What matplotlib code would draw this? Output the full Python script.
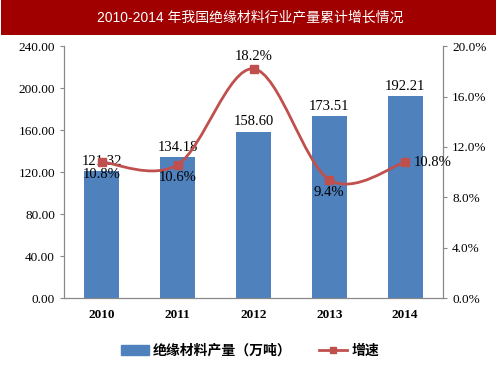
import matplotlib.pyplot as plt
from matplotlib.path import Path
from matplotlib.patches import PathPatch, Rectangle
from matplotlib.lines import Line2D
from matplotlib.ticker import FuncFormatter

years = ['2010', '2011', '2012', '2013', '2014']
output = [121.32, 134.18, 158.60, 173.51, 192.21]
growth = [10.8, 10.6, 18.2, 9.4, 10.8]

title = '2010-2014 年我国绝缘材料行业产量累计增长情况'
bar_label = '绝缘材料产量（万吨）'
line_label = '增速'

blue = '#4F81BD'
red = '#C0504D'
serif = ['Liberation Serif', 'Noto Sans CJK SC']
cjk = ['Liberation Sans', 'Noto Sans CJK SC']


def smooth_path(xs, ys):
    # Excel-like smoothed line: Catmull-Rom converted to cubic Bezier
    verts = [(xs[0], ys[0])]
    codes = [Path.MOVETO]
    n = len(xs)
    for i in range(n - 1):
        p0 = (xs[max(i - 1, 0)], ys[max(i - 1, 0)])
        p1 = (xs[i], ys[i])
        p2 = (xs[i + 1], ys[i + 1])
        p3 = (xs[min(i + 2, n - 1)], ys[min(i + 2, n - 1)])
        c1 = (p1[0] + (p2[0] - p0[0]) / 6, p1[1] + (p2[1] - p0[1]) / 6)
        c2 = (p2[0] - (p3[0] - p1[0]) / 6, p2[1] - (p3[1] - p1[1]) / 6)
        verts += [c1, c2, p2]
        codes += [Path.CURVE4] * 3
    return Path(verts, codes)


fig = plt.figure(figsize=(5, 3.75), dpi=100)
fig.patches.append(Rectangle((0.002, 0.907), 0.99, 0.093, transform=fig.transFigure,
                             facecolor='#A00000', edgecolor='none', zorder=0))
fig.text(0.5, 0.953, title, color='white', ha='center', va='center',
         fontsize=10, family=cjk)

ax = fig.add_axes([0.128, 0.205, 0.758, 0.672])
x = list(range(len(years)))
ax.bar(x, output, width=0.46, color=blue, zorder=2)
ax.set_xlim(-0.5, 4.5)
ax.set_ylim(0, 240)
ax.set_yticks([0, 40, 80, 120, 160, 200, 240])
ax.yaxis.set_major_formatter(FuncFormatter(lambda v, p: f'{v:.2f}'))
ax.set_xticks(x)
ax.set_xticklabels(years, fontweight='bold')
for xi, v in zip(x, output):
    ax.text(xi, v + 3, f'{v:.2f}', ha='center', va='bottom', fontsize=10.5,
            family=serif)

ax2 = ax.twinx()
ax2.set_ylim(0, 20)
ax2.set_yticks([0, 4, 8, 12, 16, 20])
ax2.yaxis.set_major_formatter(FuncFormatter(lambda v, p: f'{v:.1f}%'))
ax2.add_patch(PathPatch(smooth_path(x, growth), facecolor='none', edgecolor=red,
                        lw=2, zorder=3))
ax2.plot(x, growth, ls='none', marker='s', ms=6, color=red, zorder=4)

offsets = [(0, -0.5, 'center', 'top'), (0, -0.5, 'center', 'top'),
           (0, 0.5, 'center', 'bottom'), (0, -0.5, 'center', 'top'),
           (0.12, 0, 'left', 'center')]
for xi, g, (dx, dy, ha, va) in zip(x, growth, offsets):
    ax2.text(xi + dx, g + dy, f'{g:.1f}%', ha=ha, va=va, fontsize=10.5,
             family=serif)

for a in (ax, ax2):
    a.spines['top'].set_visible(False)
    for s in ('left', 'right', 'bottom'):
        a.spines[s].set_color('#888888')
    a.tick_params(colors='#888888', labelcolor='black', labelsize=9.5, length=3)
    for lab in a.get_xticklabels() + a.get_yticklabels():
        lab.set_family(serif)
ax.tick_params(axis='x', length=0, pad=8)

handles = [Rectangle((0, 0), 1, 1, color=blue),
           Line2D([0], [0], color=red, lw=2, marker='s', ms=5)]
fig.legend(handles, [bar_label, line_label], loc='center', ncol=2,
           bbox_to_anchor=(0.5, 0.065), frameon=False, handlelength=2.0,
           handletextpad=0.3, columnspacing=2.0,
           prop={'family': cjk, 'size': 10, 'weight': 'bold'})

fig.savefig('out.png', dpi=100)
